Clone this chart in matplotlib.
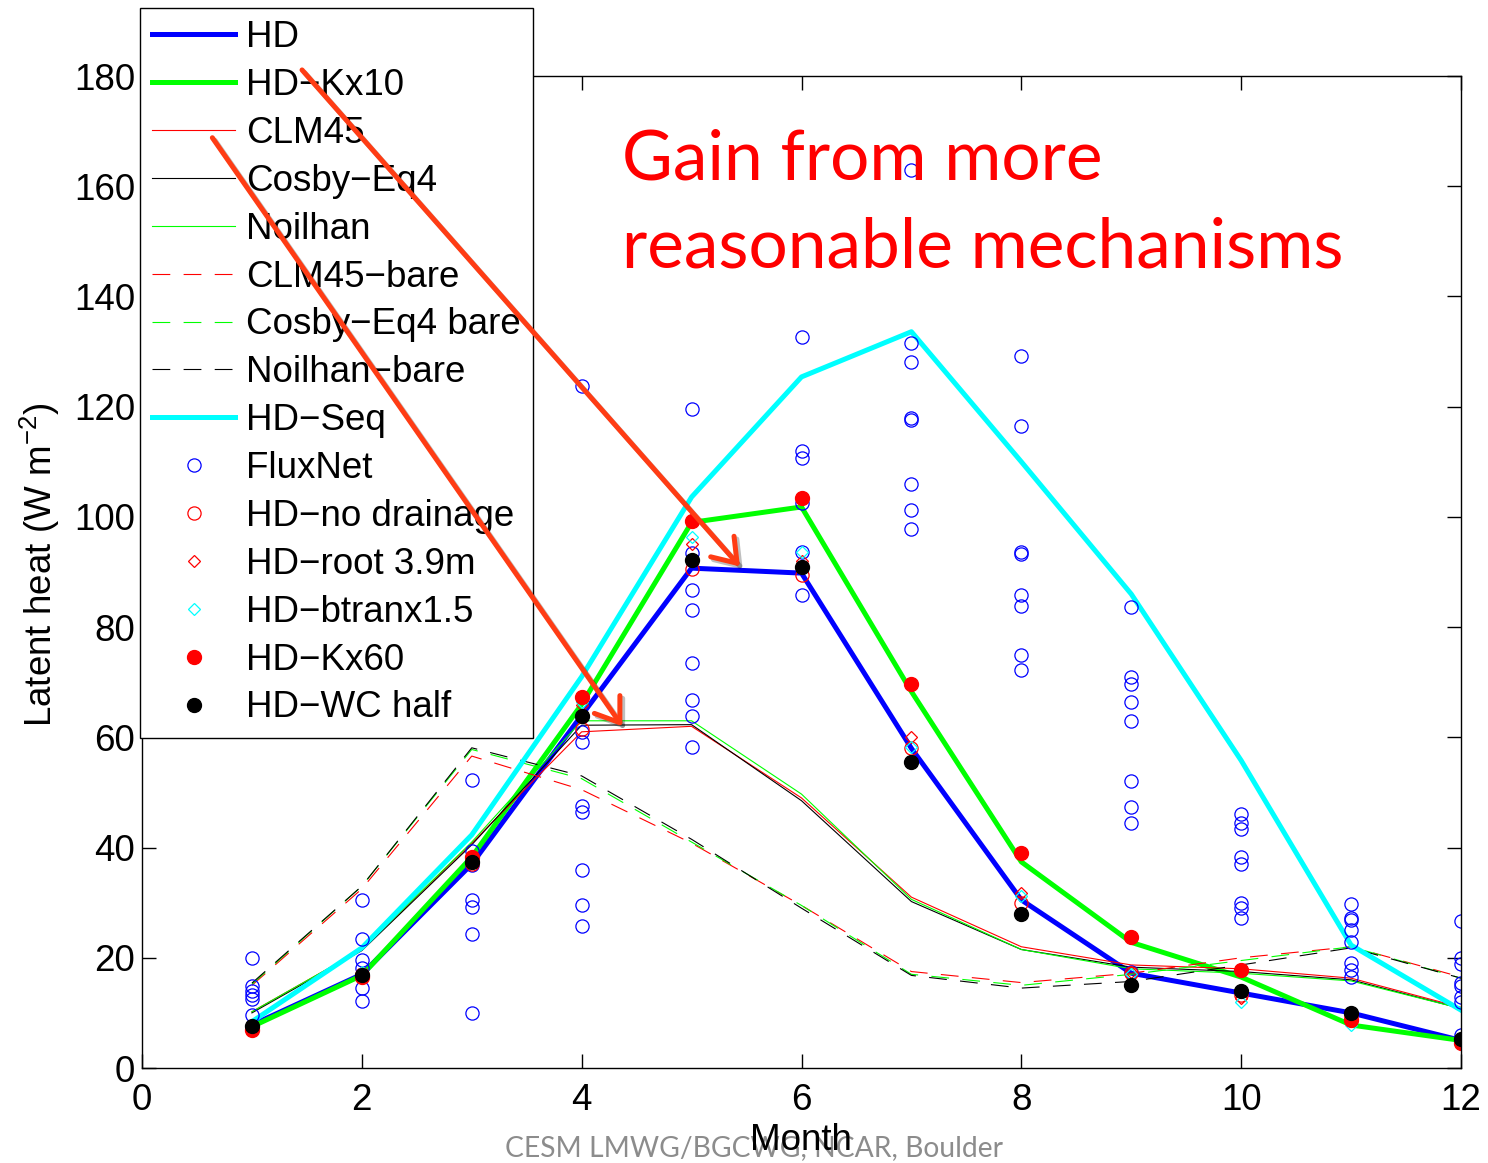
import matplotlib as mpl
mpl.use('Agg')
import matplotlib.pyplot as plt
import matplotlib.patheffects as pe

# monthly latent heat (W m-2)
months = list(range(1, 13))
hd = [7.8, 17.0, 37.0, 64.0, 90.7, 89.8, 58.0, 30.5, 17.2, 13.6, 10.0, 5.0]
hd_kx10 = [7.5, 16.8, 38.3, 66.0, 99.0, 101.8, 68.3, 37.4, 22.8, 16.5, 7.8, 5.0]
clm45 = [10.2, 21.5, 40.8, 61.0, 62.0, 49.0, 31.0, 22.0, 18.7, 18.0, 16.3, 11.0]
cosby = [10.0, 21.3, 40.5, 62.2, 62.3, 48.5, 30.2, 21.5, 18.3, 17.5, 16.0, 10.8]
noilhan = [10.2, 21.5, 41.0, 63.0, 63.0, 49.7, 30.6, 21.5, 18.0, 17.2, 15.8, 10.8]
clm45_bare = [15.0, 32.5, 56.6, 50.5, 40.8, 29.5, 17.5, 15.5, 17.2, 20.0, 22.0, 16.5]
cosby_bare = [15.2, 33.0, 57.8, 52.5, 41.0, 29.5, 17.0, 15.0, 17.0, 19.5, 22.0, 16.3]
noilhan_bare = [15.4, 33.0, 58.1, 53.0, 41.5, 29.0, 16.8, 14.5, 15.7, 18.7, 21.8, 16.3]
hd_seq = [8.4, 21.8, 42.3, 71.0, 103.6, 125.4, 133.6, 110.0, 86.0, 55.8, 22.3, 10.5]

fluxnet = [
    [20.0, 14.8, 13.9, 13.2, 12.6, 9.6],
    [30.5, 23.4, 19.6, 18.1, 14.6, 12.2],
    [52.3, 39.3, 36.8, 30.5, 29.2, 24.3, 10.0],
    [123.8, 61.0, 59.1, 47.5, 46.5, 35.9, 29.6, 25.8],
    [119.6, 93.5, 86.7, 83.1, 73.4, 66.8, 63.8, 58.3],
    [132.7, 112.0, 110.6, 102.6, 93.7, 85.8],
    [163.0, 131.5, 128.1, 117.9, 117.6, 106.0, 101.3, 97.8],
    [129.2, 116.5, 93.7, 93.3, 85.8, 83.8, 75.0, 72.2],
    [83.6, 71.0, 69.6, 66.5, 63.0, 52.1, 47.4, 44.4, 17.5],
    [46.0, 44.5, 43.3, 38.2, 37.0, 30.0, 29.1, 27.3],
    [29.7, 27.3, 26.9, 25.0, 22.8, 19.0, 17.7, 16.6],
    [26.6, 20.0, 18.9, 15.4, 14.9, 12.9, 11.9, 6.0],
]
hd_nodrain = [7.5, 17.0, 37.0, 61.5, 90.5, 89.5, 58.0, 30.0, 17.3, 13.3, 9.5, 5.0]
hd_root = [7.5, 17.0, 38.0, 65.9, 95.0, 92.0, 60.0, 31.8, 17.5, 12.7, 8.5, 5.0]
hd_btran = [7.8, 17.5, 38.5, 66.5, 96.4, 93.7, 58.3, 31.2, 17.0, 12.0, 7.8, 5.5]
hd_kx60 = [6.9, 16.6, 38.3, 67.4, 99.2, 103.4, 69.7, 39.1, 23.8, 17.7, 8.7, 4.6]
hd_wc_half = [7.7, 16.9, 37.4, 63.8, 92.2, 90.9, 55.6, 27.9, 15.1, 13.9, 10.0, 5.3]

# annotation arrows (data coords): tail -> tip
arrow_tails = [(1.456, 181.1), (0.64, 168.8)]
arrow_tips = [(5.44, 91.0), (4.37, 62.0)]

plt.rcParams['font.family'] = ['Liberation Sans', 'DejaVu Sans']
plt.rcParams['font.size'] = 26.5
plt.rcParams['mathtext.fontset'] = 'custom'
plt.rcParams['mathtext.rm'] = 'Liberation Sans'
plt.rcParams['mathtext.it'] = 'Liberation Sans:italic'

W, H = 1488, 1163
fig = plt.figure(figsize=(W / 100, H / 100), dpi=100)
ax = fig.add_axes([142 / W, 1 - 1068 / H, (1461 - 142) / W, (1068 - 76) / H])

dash = (0, (16, 12))
ax.plot(months, hd, color='b', lw=3.6, label='HD')
ax.plot(months, hd_kx10, color='#00ff00', lw=3.6, label='HD\u2212Kx10')
ax.plot(months, clm45, color='r', lw=0.8, label='CLM45')
ax.plot(months, cosby, color='k', lw=0.8, label='Cosby\u2212Eq4')
ax.plot(months, noilhan, color='#00ff00', lw=0.8, label='Noilhan')
ax.plot(months, clm45_bare, color='r', lw=0.8, ls=dash, label='CLM45\u2212bare')
ax.plot(months, cosby_bare, color='#00ff00', lw=0.8, ls=dash, label='Cosby\u2212Eq4 bare')
ax.plot(months, noilhan_bare, color='k', lw=0.8, ls=dash, label='Noilhan\u2212bare')
ax.plot(months, hd_seq, color='#00ffff', lw=3.6, label='HD\u2212Seq')

flux_x, flux_y = [], []
for m, vals in zip(months, fluxnet):
    for v in vals:
        flux_x.append(m)
        flux_y.append(v)
ax.plot(flux_x, flux_y, ls='none', marker='o', ms=9.5, mfc='none', mec='b', mew=0.9, label='FluxNet')
ax.plot(months, hd_nodrain, ls='none', marker='o', ms=9.5, mfc='none', mec='r', mew=0.9, label='HD\u2212no drainage')
ax.plot(months, hd_root, ls='none', marker='D', ms=6.5, mfc='none', mec='r', mew=0.9, label='HD\u2212root 3.9m')
ax.plot(months, hd_btran, ls='none', marker='D', ms=6.5, mfc='none', mec='#00ffff', mew=0.9, label='HD\u2212btranx1.5')
ax.plot(months, hd_kx60, ls='none', marker='o', ms=10, mfc='r', mec='r', label='HD\u2212Kx60')
ax.plot(months, hd_wc_half, ls='none', marker='o', ms=10, mfc='k', mec='k', label='HD\u2212WC half')

ax.set_xlim(0, 12)
ax.set_ylim(0, 180)
ax.set_xticks(range(0, 13, 2))
ax.set_yticks(range(0, 181, 20))
ax.tick_params(direction='in', top=True, right=True, length=10, width=1)
ax.tick_params(axis='x', pad=11)
ax.tick_params(axis='y', pad=5)
for s in ax.spines.values():
    s.set_linewidth(1.0)

leg = ax.legend(loc='upper left', bbox_to_anchor=(140 / W, 1 - 8 / H),
                bbox_transform=fig.transFigure, borderaxespad=0,
                fancybox=False, edgecolor='k', framealpha=1,
                handlelength=2.25, handletextpad=0.3, labelspacing=0.35,
                borderpad=0.33, numpoints=1)
leg.get_frame().set_linewidth(1.0)

for tail, tip in zip(arrow_tails, arrow_tips):
    ann = ax.annotate('', xy=tip, xytext=tail, annotation_clip=False, zorder=10,
                      arrowprops=dict(arrowstyle='->,head_length=1.0,head_width=0.7',
                                      mutation_scale=16, color='#ff3c14', lw=3.6,
                                      shrinkA=0, shrinkB=0))
    ann.arrow_patch.set_path_effects([pe.SimpleLineShadow(offset=(2, -2), alpha=0.25),
                                      pe.Normal()])

fig.text(622 / W, 1 - 180 / H, 'Gain from more', color='r', fontsize=50,
         family='Lato', va='baseline', zorder=11)
fig.text(622 / W, 1 - 268 / H, 'reasonable mechanisms', color='r', fontsize=50,
         family='Lato', va='baseline', zorder=11)

fig.text(40 / W, 1 - 565 / H, 'Latent heat (W m$^{-2}$)', rotation=90,
         ha='center', va='center')
fig.text(754 / W, 1 - 1148 / H, 'CESM LMWG/BGCWG, NCAR, Boulder', color='#8c8c8c',
         fontsize=20.3, family='Lato', ha='center', va='center')
fig.text(801 / W, 1 - 1141 / H, 'Month', ha='center', va='center')

fig.savefig('out.png', dpi=100)
